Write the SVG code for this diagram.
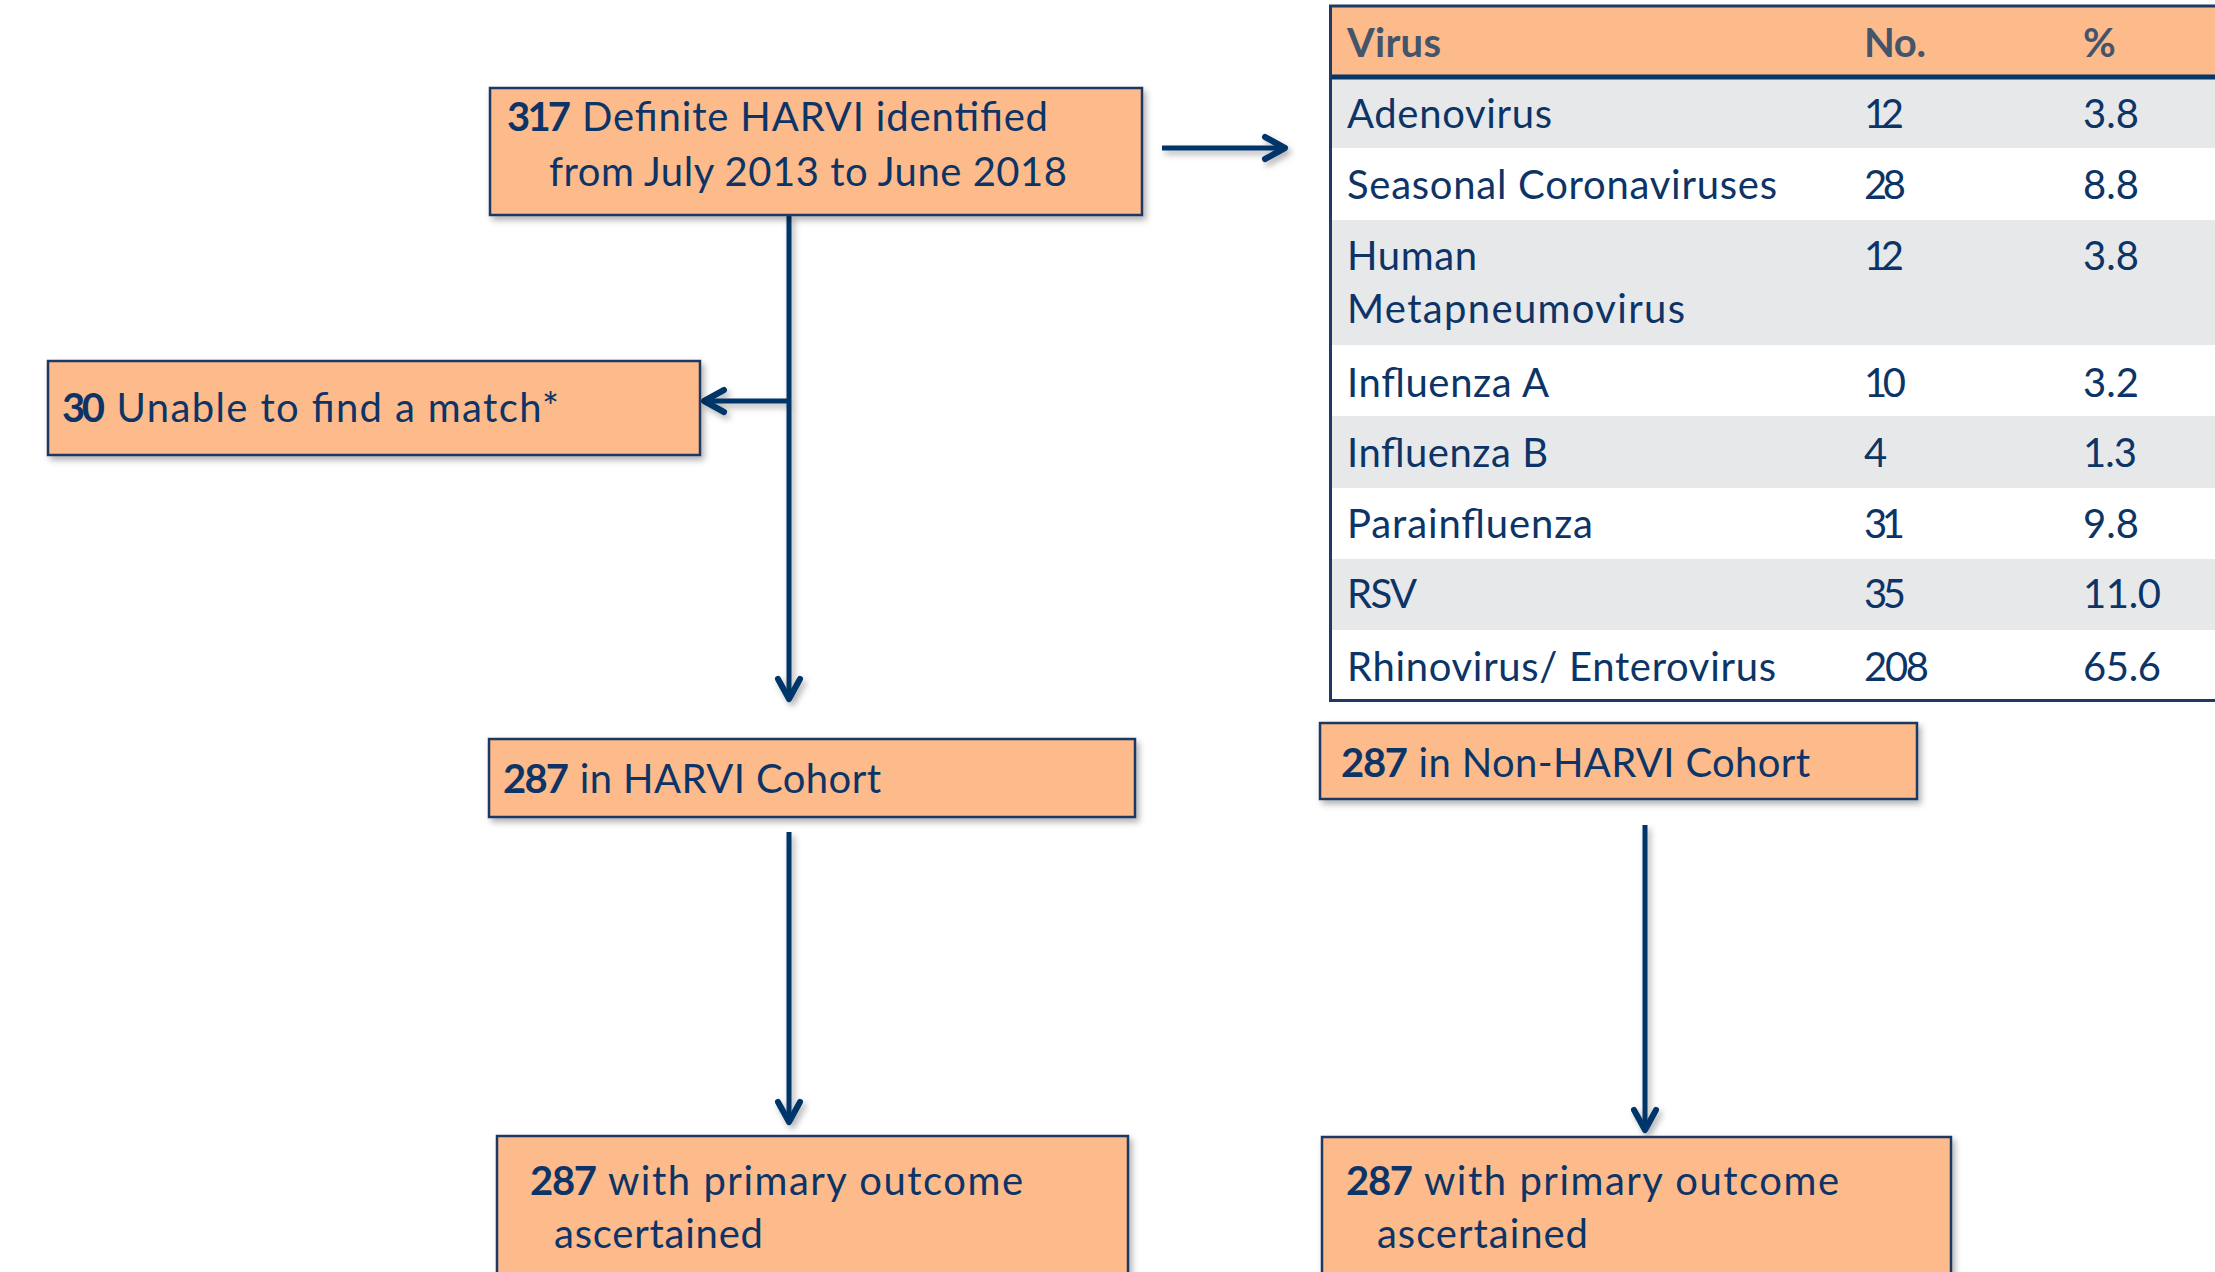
<svg xmlns="http://www.w3.org/2000/svg" width="2215" height="1272" viewBox="0 0 2215 1272">
<style>
.box{fill:#FDBA8B;stroke:#1F3864;stroke-width:2.5}
.t{font-family:Lato,"Open Sans","Liberation Sans",sans-serif;font-size:40px;fill:#0D3466}
.b{font-weight:bold}
.h{font-family:Lato,"Open Sans","Liberation Sans",sans-serif;font-size:40px;font-weight:bold;fill:#44546A}
.ln{fill:none;stroke:#06356A;stroke-width:5}
</style>
<defs>
<filter id="sh" x="-10%" y="-10%" width="130%" height="140%">
<feDropShadow dx="3" dy="4" stdDeviation="3" flood-color="#000" flood-opacity="0.3"/>
</filter>
<marker id="ah" markerUnits="userSpaceOnUse" viewBox="-26 -16 32 32" refX="0" refY="0" markerWidth="32" markerHeight="32" orient="auto" overflow="visible">
<path d="M-20,-11 L0,0 L-20,11" fill="none" stroke="#06356A" stroke-width="6" stroke-linecap="round" stroke-linejoin="round"/>
</marker>
</defs>
<rect width="2215" height="1272" fill="#fff"/>

<g id="table">
<rect x="1329" y="7" width="890" height="69" fill="#FDBA8B"/>
<rect x="1329" y="79" width="890" height="69" fill="#E7E8EA"/>
<rect x="1329" y="220" width="890" height="125" fill="#E7E8EA"/>
<rect x="1329" y="416" width="890" height="72" fill="#E7E8EA"/>
<rect x="1329" y="559" width="890" height="71" fill="#E7E8EA"/>
<line x1="1329" y1="6" x2="2215" y2="6" stroke="#1F3864" stroke-width="3"/>
<line x1="1329" y1="77" x2="2215" y2="77" stroke="#06356A" stroke-width="5"/>
<line x1="1329" y1="700.5" x2="2215" y2="700.5" stroke="#1F3864" stroke-width="3"/>
<line x1="1330.5" y1="5" x2="1330.5" y2="702" stroke="#1F3864" stroke-width="3"/>
<text class="h" x="1347" y="57" textLength="94">Virus</text>
<text class="h" x="1864" y="57" textLength="62">No.</text>
<text class="h" x="2083" y="57" textLength="32">%</text>
<text class="t" x="1347" y="128" textLength="205">Adenovirus</text>
<text class="t" x="1864" y="128" textLength="40">12</text>
<text class="t" x="2083" y="128" textLength="56">3.8</text>
<text class="t" x="1347" y="199" textLength="430">Seasonal Coronaviruses</text>
<text class="t" x="1864" y="199" textLength="42">28</text>
<text class="t" x="2083" y="199" textLength="56">8.8</text>
<text class="t" y="270"><tspan x="1347" textLength="130">Human</tspan><tspan x="1347" y="323" textLength="338">Metapneumovirus</tspan></text>
<text class="t" x="1864" y="270" textLength="40">12</text>
<text class="t" x="2083" y="270" textLength="56">3.8</text>
<text class="t" x="1347" y="397" textLength="202">Influenza A</text>
<text class="t" x="1864" y="397" textLength="42">10</text>
<text class="t" x="2083" y="397" textLength="56">3.2</text>
<text class="t" x="1347" y="467" textLength="201">Influenza B</text>
<text class="t" x="1864" y="467" textLength="21">4</text>
<text class="t" x="2083" y="467" textLength="54">1.3</text>
<text class="t" x="1347" y="538" textLength="246">Parainfluenza</text>
<text class="t" x="1864" y="538" textLength="41">31</text>
<text class="t" x="2083" y="538" textLength="56">9.8</text>
<text class="t" x="1347" y="608" textLength="70">RSV</text>
<text class="t" x="1864" y="608" textLength="42">35</text>
<text class="t" x="2083" y="608" textLength="78">11.0</text>
<text class="t" x="1347" y="681" textLength="429">Rhinovirus/ Enterovirus</text>
<text class="t" x="1864" y="681" textLength="65">208</text>
<text class="t" x="2083" y="681" textLength="78">65.6</text>
</g>

<g id="connectors" filter="url(#sh)">
<path class="ln" d="M789,215 V699" marker-end="url(#ah)"/>
<path class="ln" d="M789,401 H704" marker-end="url(#ah)"/>
<path class="ln" d="M1162,148 H1285" marker-end="url(#ah)"/>
<path class="ln" d="M789,832 V1122" marker-end="url(#ah)"/>
<path class="ln" d="M1645,825 V1130" marker-end="url(#ah)"/>
</g>

<g id="n317">
<rect class="box" x="490" y="88" width="652" height="127" filter="url(#sh)"/>
<text class="t" y="131"><tspan class="b" x="507" textLength="64">317</tspan><tspan x="571" textLength="477"> Definite HARVI identified</tspan></text>
<text class="t" x="549" y="186" textLength="518">from July 2013 to June 2018</text>
</g>

<g id="nUnable">
<rect class="box" x="48" y="361" width="652" height="94" filter="url(#sh)"/>
<text class="t" y="422"><tspan class="b" x="62" textLength="43">30</tspan><tspan x="105" textLength="454"> Unable to find a match*</tspan></text>
</g>

<g id="nHarvi">
<rect class="box" x="489" y="739" width="646" height="78" filter="url(#sh)"/>
<text class="t" y="793"><tspan class="b" x="503" textLength="66">287</tspan><tspan x="569" textLength="312"> in HARVI Cohort</tspan></text>
</g>

<g id="nNonHarvi">
<rect class="box" x="1320" y="723" width="597" height="76" filter="url(#sh)"/>
<text class="t" y="777"><tspan class="b" x="1341" textLength="67">287</tspan><tspan x="1408" textLength="402"> in Non-HARVI Cohort</tspan></text>
</g>

<g id="nOutcomeHarvi">
<rect class="box" x="497" y="1136" width="631" height="170" filter="url(#sh)"/>
<text class="t" y="1195"><tspan class="b" x="530" textLength="67">287</tspan><tspan x="597" textLength="426"> with primary outcome</tspan></text>
<text class="t" x="554" y="1248" textLength="209">ascertained</text>
</g>

<g id="nOutcomeNonHarvi">
<rect class="box" x="1322" y="1137" width="629" height="170" filter="url(#sh)"/>
<text class="t" y="1195"><tspan class="b" x="1346" textLength="67">287</tspan><tspan x="1413" textLength="426"> with primary outcome</tspan></text>
<text class="t" x="1377" y="1248" textLength="211">ascertained</text>
</g>
</svg>
